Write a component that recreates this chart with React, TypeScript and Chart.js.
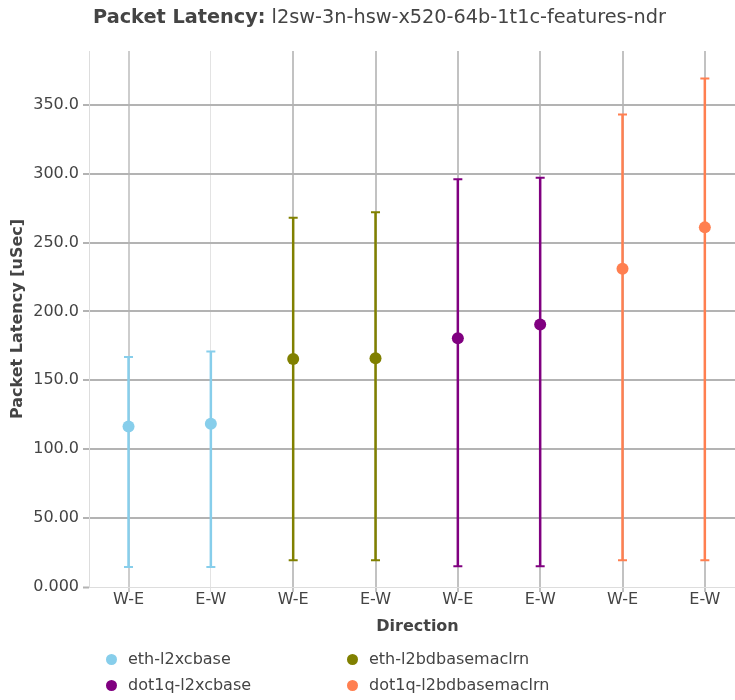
import React, { useEffect, useRef } from "react";
import { Chart, registerables } from "chart.js";

Chart.register(...registerables);

const categories = ["W-E", "E-W", "W-E", "E-W", "W-E", "E-W", "W-E", "E-W"];
const seriesNames = ["eth-l2xcbase", "eth-l2bdbasemaclrn", "dot1q-l2xcbase", "dot1q-l2bdbasemaclrn"];
const seriesColors = ["#87ceeb", "#808000", "#800080", "#ff7f50"];
const seriesX = [[0, 1], [2, 3], [4, 5], [6, 7]];
const seriesAvg = [[116.5, 118.5], [165.5, 166], [180.5, 190.5], [231, 261]];
const seriesMin = [[14.5, 14.5], [19.5, 19.5], [15, 15], [19.5, 19.5]];
const seriesMax = [[167, 171], [268, 272], [296, 297], [343, 369]];
const yTicks = [0, 50, 100, 150, 200, 250, 300, 350];

const TEXT = "#444444";
const FONT = "'DejaVu Sans', sans-serif";
const CW = 752;

const errorBarPlugin = {
  id: "errorBars",
  beforeDatasetsDraw(chart: any) {
    const { ctx, scales } = chart;
    const xs = scales.x;
    const ys = scales.y;
    ctx.save();
    seriesNames.forEach((_, s) => {
      ctx.strokeStyle = seriesColors[s];
      seriesX[s].forEach((xv, i) => {
        const px = xs.getPixelForValue(xv);
        const pTop = ys.getPixelForValue(seriesMax[s][i]);
        const pBot = ys.getPixelForValue(seriesMin[s][i]);
        ctx.lineWidth = 2.5;
        ctx.beginPath();
        ctx.moveTo(px, pTop);
        ctx.lineTo(px, pBot);
        ctx.stroke();
        ctx.lineWidth = 2;
        ctx.beginPath();
        ctx.moveTo(px - 4.5, pTop);
        ctx.lineTo(px + 4.5, pTop);
        ctx.moveTo(px - 4.5, pBot);
        ctx.lineTo(px + 4.5, pBot);
        ctx.stroke();
      });
    });
    ctx.restore();
  },
};

export default function App() {
  const ref = useRef<HTMLCanvasElement | null>(null);

  useEffect(() => {
    if (!ref.current) return;
    const datasets = seriesNames.map((name, s) => ({
      label: name,
      data: seriesX[s].map((x, i) => ({ x, y: seriesAvg[s][i] })),
      showLine: false,
      backgroundColor: seriesColors[s],
      borderColor: seriesColors[s],
      pointRadius: 6,
      pointHoverRadius: 6,
      pointBorderWidth: 0,
    }));
    const vColors = ["#cdcdcd", "#e3e3e3", "#c2c2c2", "#c2c2c2", "#c2c2c2", "#c2c2c2", "#c2c2c2", "#c2c2c2"];
    const vWidths = [2, 1, 2, 2, 2, 2, 2, 2];
    const chart = new Chart(ref.current, {
      type: "scatter",
      data: { datasets },
      plugins: [errorBarPlugin],
      options: {
        animation: false,
        responsive: false,
        maintainAspectRatio: false,
        layout: { padding: { top: 51, right: 0, bottom: 0, left: 0 } },
        plugins: {
          legend: { display: false },
          title: { display: false },
          tooltip: { enabled: false },
        },
        scales: {
          x: {
            type: "linear",
            min: -0.48,
            max: 7.5,
            afterBuildTicks: (scale: any) => {
              scale.ticks = categories.map((_, i) => ({ value: i }));
            },
            grid: {
              color: (c: any) => vColors[c.index] ?? "#c2c2c2",
              lineWidth: (c: any) => vWidths[c.index] ?? 2,
              drawTicks: true,
              tickLength: 5,
            },
            border: { display: true, color: "#dddddd", width: 1 },
            ticks: {
              color: TEXT,
              font: { family: FONT, size: 16 },
              padding: -2,
              maxRotation: 0,
              autoSkip: false,
              callback: (v: any) => categories[Math.round(Number(v))] ?? "",
            },
            title: {
              display: true,
              text: "Direction",
              color: TEXT,
              font: { family: FONT, size: 16, weight: "bold" },
              padding: { top: 0, bottom: 64 },
            },
            afterFit: (scale: any) => {
              scale.height = 113;
              scale.paddingLeft = 0;
              scale.paddingRight = 0;
            },
          },
          y: {
            type: "linear",
            min: 0,
            max: 389,
            afterBuildTicks: (scale: any) => {
              scale.ticks = yTicks.map((v) => ({ value: v }));
            },
            grid: {
              color: (c: any) => (c.tick && c.tick.value === 0 ? "#dddddd" : "#b3b3b3"),
              lineWidth: (c: any) => (c.tick && c.tick.value === 0 ? 1 : 2),
              drawTicks: true,
              tickLength: 6,
              tickColor: "#b3b3b3",
              tickWidth: 2,
            },
            border: { display: true, color: "#dddddd", width: 1 },
            ticks: {
              color: TEXT,
              font: { family: FONT, size: 16 },
              padding: 4,
              callback: (v: any) => Number(v).toPrecision(4),
            },
            title: {
              display: true,
              text: "Packet Latency [uSec]",
              color: TEXT,
              font: { family: FONT, size: 16, weight: "bold" },
              padding: { top: 8, bottom: 0 },
            },
            afterFit: (scale: any) => {
              scale.width = 89;
              scale.paddingTop = 0;
              scale.paddingBottom = 0;
            },
          },
        },
      } as any,
    });
    return () => chart.destroy();
  }, []);

  const legendItem = (s: number, left: number, top: number) => (
    <div
      key={s}
      style={{ position: "absolute", left, top, height: 20, display: "flex", alignItems: "center" }}
    >
      <span
        style={{
          display: "inline-block",
          width: 11,
          height: 11,
          borderRadius: "50%",
          background: seriesColors[s],
          marginRight: 11,
        }}
      />
      <span style={{ fontFamily: FONT, fontSize: 16, color: TEXT, lineHeight: "20px" }}>{seriesNames[s]}</span>
    </div>
  );

  return (
    <div style={{ position: "absolute", left: 0, top: 0, width: 735, height: 700, overflow: "hidden", background: "#fff" }}>
      <div style={{ position: "absolute", left: 0, top: 0, width: CW, height: 700 }}>
        <canvas ref={ref} width={CW} height={700} style={{ display: "block", width: CW, height: 700 }} />
      </div>
      <div
        style={{
          position: "absolute",
          left: 0,
          top: 5,
          width: 759,
          textAlign: "center",
          fontFamily: FONT,
          fontSize: 19.3,
          color: TEXT,
          whiteSpace: "nowrap",
          lineHeight: "24px",
        }}
      >
        <b>Packet Latency:</b> l2sw-3n-hsw-x520-64b-1t1c-features-ndr
      </div>
      {legendItem(0, 106, 649)}
      {legendItem(1, 347, 649)}
      {legendItem(2, 106, 675)}
      {legendItem(3, 347, 675)}
    </div>
  );
}
